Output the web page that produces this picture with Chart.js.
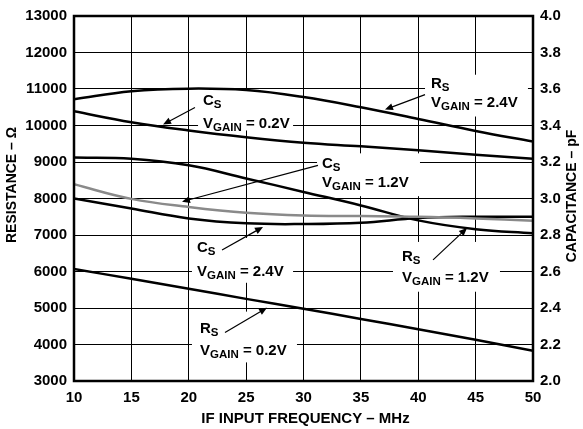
<!DOCTYPE html>
<html>
<head>
<meta charset="utf-8">
<script src="https://cdn.jsdelivr.net/npm/chart.js@4.4.1/dist/chart.umd.min.js"></script>
<style>
  html, body { margin: 0; padding: 0; background: #fff; }
  canvas { display: block; }
</style>
</head>
<body>
<canvas id="chart" width="583" height="429"></canvas>
<script>
// frequency points, MHz
const freq = [10, 15, 20, 25, 30, 35, 40, 45, 50];

// resistance curves, ohms (left axis)
const rsGain24 = [10720, 10940, 11010, 10970, 10780, 10500, 10180, 9850, 9560];
const rsGain12 = [9120, 9090, 8910, 8550, 8180, 7810, 7400, 7160, 7050];
const rsGain02 = [6070, 5800, 5530, 5250, 4980, 4700, 4420, 4130, 3830];

// capacitance curves, pF (right axis)
const csGain02 = [3.478, 3.418, 3.373, 3.336, 3.306, 3.286, 3.264, 3.240, 3.218];
const csGain12 = [3.078, 2.998, 2.954, 2.922, 2.907, 2.904, 2.900, 2.891, 2.878];
const csGain24 = [3.000, 2.945, 2.891, 2.864, 2.860, 2.867, 2.893, 2.900, 2.900];

const xTitle = 'IF INPUT FREQUENCY – MHz';
const yTitle = 'RESISTANCE – Ω';
const y1Title = 'CAPACITANCE – pF';

const FONT = '"Liberation Sans", Arial, sans-serif';

// callouts, placed in axis units (freq, ohms)
const notes = [
  { main: 'C', sub: 'S', volt: '0.2V', x: 21.24, y1: 10682, y2: 10055,
    box: [20.81, 10955, 29.09, 9864], from: [20.54, 10491], to: [17.76, 10028] },
  { main: 'R', sub: 'S', volt: '2.4V', x: 41.11, y1: 11146, y2: 10628,
    box: [40.59, 11391, 49.56, 10246], from: [40.59, 10846], to: [37.10, 10437] },
  { main: 'C', sub: 'S', volt: '1.2V', x: 31.61, y1: 8937, y2: 8419,
    box: [31.18, 9237, 40.15, 8064], from: [31.26, 8909], to: [19.41, 7914] },
  { main: 'C', sub: 'S', volt: '2.4V', x: 20.72, y1: 6646, y2: 5992,
    box: [20.28, 6919, 29.09, 5691], from: [22.90, 6591], to: [26.47, 7219] },
  { main: 'R', sub: 'S', volt: '1.2V', x: 38.58, y1: 6401, y2: 5828,
    box: [37.80, 6810, 47.12, 5446], from: [41.29, 6319], to: [44.25, 7192] },
  { main: 'R', sub: 'S', volt: '0.2V', x: 20.98, y1: 4437, y2: 3837,
    box: [20.28, 4901, 29.43, 3510], from: [23.16, 4328], to: [26.82, 5010] }
];

function pairs(values) {
  return freq.map((f, i) => ({ x: f, y: values[i] }));
}

function curve(values, axis, color) {
  return {
    data: pairs(values),
    yAxisID: axis,
    borderColor: color,
    borderWidth: 2.5,
    pointRadius: 0,
    tension: 0.4,
    fill: false
  };
}

function subText(ctx, x, y, main, sub, rest) {
  ctx.font = 'bold 15px ' + FONT;
  ctx.fillText(main, x, y);
  x += ctx.measureText(main).width;
  ctx.font = 'bold 11.5px ' + FONT;
  ctx.fillText(sub, x, y + 4);
  x += ctx.measureText(sub).width;
  if (rest) {
    ctx.font = 'bold 15px ' + FONT;
    ctx.fillText(rest, x, y);
  }
}

function arrow(ctx, x0, y0, x1, y1) {
  const a = Math.atan2(y1 - y0, x1 - x0);
  const len = 8, half = 3.5;
  ctx.beginPath();
  ctx.moveTo(x0, y0);
  ctx.lineTo(x1 - Math.cos(a) * len * 0.8, y1 - Math.sin(a) * len * 0.8);
  ctx.lineWidth = 1.2;
  ctx.stroke();
  ctx.beginPath();
  ctx.moveTo(x1, y1);
  ctx.lineTo(x1 - Math.cos(a) * len - Math.sin(a) * half, y1 - Math.sin(a) * len + Math.cos(a) * half);
  ctx.lineTo(x1 - Math.cos(a) * len + Math.sin(a) * half, y1 - Math.sin(a) * len - Math.cos(a) * half);
  ctx.closePath();
  ctx.fill();
}

const callouts = {
  id: 'callouts',
  beforeDatasetsDraw(chart) {
    // white patches that break the grid behind each label
    const { ctx, scales: { x, y } } = chart;
    ctx.save();
    ctx.fillStyle = '#fff';
    notes.forEach(n => {
      const l = x.getPixelForValue(n.box[0]), t = y.getPixelForValue(n.box[1]);
      const r = x.getPixelForValue(n.box[2]), b = y.getPixelForValue(n.box[3]);
      ctx.fillRect(l, t, r - l, b - t);
    });
    ctx.restore();
  },
  afterDraw(chart) {
    const { ctx, chartArea: area, scales: { x, y } } = chart;
    ctx.save();
    ctx.fillStyle = '#000';
    ctx.strokeStyle = '#000';
    ctx.textBaseline = 'middle';
    ctx.textAlign = 'left';
    notes.forEach(n => {
      const px = x.getPixelForValue(n.x);
      subText(ctx, px, y.getPixelForValue(n.y1), n.main, n.sub);
      subText(ctx, px, y.getPixelForValue(n.y2), 'V', 'GAIN', ' = ' + n.volt);
      arrow(ctx, x.getPixelForValue(n.from[0]), y.getPixelForValue(n.from[1]),
        x.getPixelForValue(n.to[0]), y.getPixelForValue(n.to[1]));
    });

    // plot frame
    ctx.lineWidth = 2.5;
    ctx.strokeRect(area.left, area.top, area.right - area.left, area.bottom - area.top);

    // axis titles
    ctx.textAlign = 'center';
    ctx.font = 'bold 15px ' + FONT;
    ctx.fillText(xTitle, 305.5, 419);
    ctx.font = 'bold 14px ' + FONT;
    ctx.save();
    ctx.translate(12.5, 185);
    ctx.rotate(-Math.PI / 2);
    ctx.fillText(yTitle, 0, 0);
    ctx.restore();
    ctx.save();
    ctx.translate(572, 196);
    ctx.rotate(-Math.PI / 2);
    ctx.fillText(y1Title, 0, 0);
    ctx.restore();
    ctx.restore();
  }
};

const tickFont = { family: FONT, size: 15, weight: 'bold' };

new Chart(document.getElementById('chart'), {
  type: 'line',
  data: {
    datasets: [
      curve(csGain12, 'y1', '#8a8a8a'),
      curve(rsGain24, 'y', '#000'),
      curve(csGain02, 'y1', '#000'),
      curve(rsGain12, 'y', '#000'),
      curve(csGain24, 'y1', '#000'),
      curve(rsGain02, 'y', '#000')
    ]
  },
  options: {
    responsive: false,
    animation: false,
    layout: { padding: { top: 15, left: 0, right: 0, bottom: 0 } },
    plugins: { legend: { display: false }, tooltip: { enabled: false } },
    scales: {
      x: {
        type: 'linear', min: 10, max: 50,
        ticks: { stepSize: 5, color: '#000', font: tickFont, padding: 8, maxRotation: 0,
          callback: v => String(v) },
        grid: { color: '#000', lineWidth: 1, drawTicks: false },
        border: { display: false },
        afterFit: s => { s.height = 48; }
      },
      y: {
        position: 'left', min: 3000, max: 13000,
        ticks: { stepSize: 1000, color: '#000', font: tickFont, padding: 7,
          callback: v => String(v) },
        grid: { color: '#000', lineWidth: 1, drawTicks: false },
        border: { display: false },
        afterFit: s => { s.width = 74; }
      },
      y1: {
        position: 'right', min: 2, max: 4,
        ticks: { stepSize: 0.2, color: '#000', font: tickFont, padding: 7,
          callback: v => v.toFixed(1) },
        grid: { display: false, drawTicks: false },
        border: { display: false },
        afterFit: s => { s.width = 50; }
      }
    }
  },
  plugins: [callouts]
});
</script>
</body>
</html>
